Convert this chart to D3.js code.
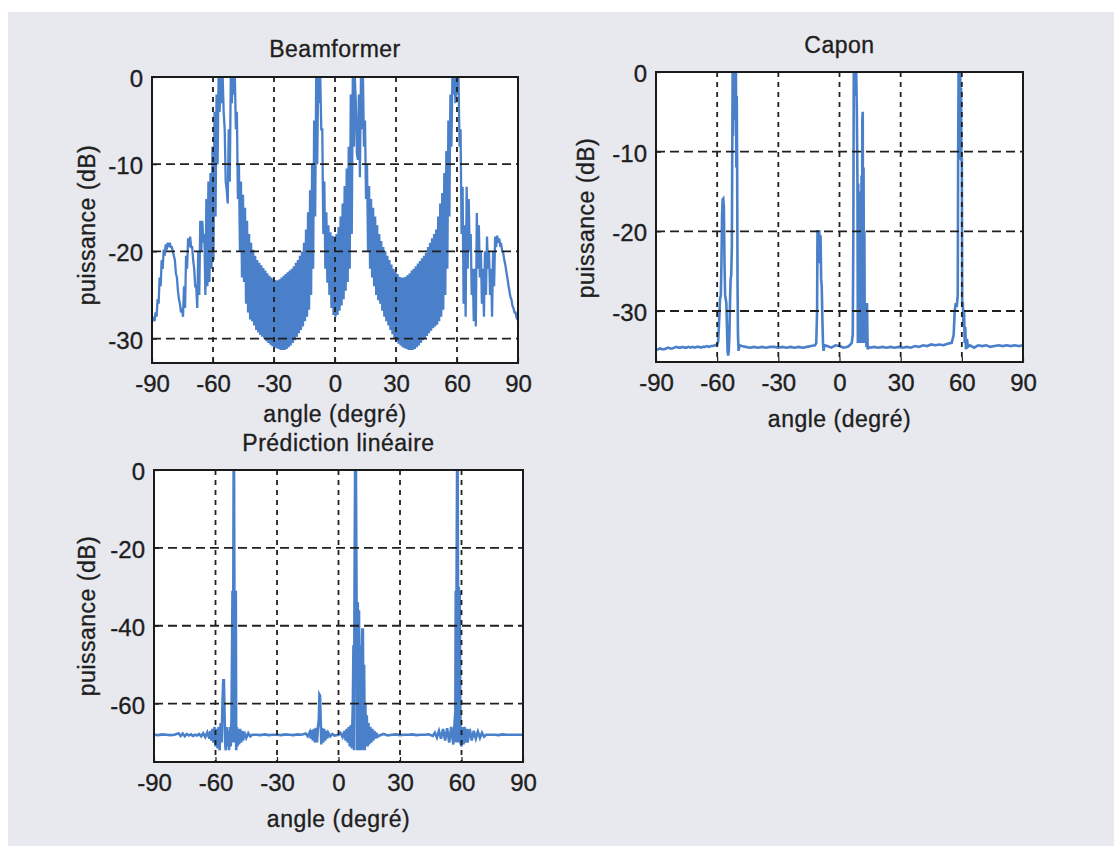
<!DOCTYPE html>
<html><head><meta charset="utf-8">
<script src="https://cdn.jsdelivr.net/npm/d3@7"></script>
<style>
body{margin:0;background:#fff;}
text{font-family:"Liberation Sans",Arial,sans-serif;fill:#1e1e1e;stroke:#1e1e1e;stroke-width:0.35px;}
</style>
</head><body>
<svg id="c" width="1114" height="846"></svg>
<script>
// ---------- data ----------
const xTicks = [-90, -60, -30, 0, 30, 60, 90];
const bfYTicks = [0, -10, -20, -30];
const capYTicks = [0, -10, -20, -30];
const lpYTicks = [0, -20, -40, -60];

// Beamformer: local maxima / minima read at each degree from -90 to 90
const bfStart = -90;
const bfUpper = [
 -27.5,-27.5,-27,-25.5,-23,-21,-19.8,-19.2,-19,-19,
 -19.5,-20.5,-22.5,-24.5,-26,-26.5,-24,-20.5,-18.5,-18.3,
 -19.5,-22,-24,-20,-16.5,-16.5,-18,-14,-12,-11,
 -8,-4,-2,0,0,0,-6,-13,-6,0,
 0,0,-4,-10,-12,-13.5,-15,-16.5,-18,-19,
 -19.8,-20.5,-21,-21.3,-21.6,-21.9,-22.2,-22.5,-22.8,-23,
 -23.2,-23.3,-23.3,-23.2,-23,-22.8,-22.6,-22.4,-22.2,-22,
 -21.7,-21.3,-21,-20.5,-20,-19,-17.5,-15.5,-13,-10,
 -5,0,0,0,-6,-12,-15.5,-17,-17.8,-18.2,
 -18.3,-18,-17.2,-16,-14.5,-12.5,-10.5,-8,-2,0,
 0,-8.7,-2,0,0,-5,-10,-12.5,-14,-15,
 -16,-17,-18,-18.8,-19.5,-20,-20.5,-21,-21.5,-22,
 -22.3,-22.6,-22.9,-23,-23,-22.9,-22.7,-22.5,-22.2,-22,
 -21.7,-21.4,-21.1,-20.8,-20.5,-20.2,-19.5,-19,-18.5,-18,
 -17.5,-16,-14.5,-13.3,-11,-8.5,-5,-2,0,0,
 0,0,-6,-12.6,-17,-12.6,-14,-18,-22,-22,
 -15.6,-17,-20,-22,-20,-18.3,-20,-22,-20,-18.3,
 -18.2,-18.5,-19.2,-20.2,-21.5,-23,-24.5,-25.5,-26.5,-27,
 -27.2];
const bfLower = [
 -28,-28,-27.5,-26,-24,-22,-20.5,-19.8,-19.5,-19.5,
 -20,-21,-23,-25.5,-27,-27.5,-26.5,-22,-19.5,-19.5,
 -21,-24,-26.5,-25,-20,-19,-25,-24,-23.5,-22,
 -21,-16,-10,-4,-3,-4,-12,-14.5,-12,-3,
 -2,-6,-14,-20,-23,-23.5,-26,-27,-27.8,-28,
 -28.5,-29,-29.3,-29.6,-29.8,-30,-30.3,-30.5,-30.7,-30.9,
 -31,-31.1,-31.2,-31.3,-31.3,-31.3,-31.2,-31,-30.8,-30.5,
 -30.2,-29.8,-29.4,-29,-28.6,-28,-27.5,-26.7,-25,-22,
 -16,-10,-3,-6,-18,-22,-23.6,-25,-26.5,-27.3,
 -27.5,-27.3,-26.8,-26.2,-25.5,-24.5,-23.5,-22,-18,-8,
 -3,-9.5,-11.5,-6,-8,-14,-20,-22,-23,-24,
 -25,-25.6,-26,-26.8,-27.5,-28,-28.5,-29,-29.5,-30,
 -30.3,-30.6,-30.8,-31,-31.1,-31.2,-31.3,-31.3,-31.3,-31.2,
 -31,-30.8,-30.5,-30.2,-30,-29.7,-29.4,-29.1,-28.8,-28.6,
 -28.4,-28,-27.5,-26.7,-25,-22,-16,-8,-2,-3,
 -2,-8,-18,-26,-27.5,-22,-20,-25,-28,-28.6,
 -22,-23,-26,-27.5,-25,-22,-25,-27.5,-24,-19.5,
 -19,-19.3,-20,-21,-22.3,-23.8,-25.2,-26.2,-27,-27.5,
 -27.7];

// Capon: [angle, dB]
const caponPts = [
 [-90,-34.9],[-89,-34.8],[-88,-34.7],[-87,-34.8],[-86,-34.8],[-85,-34.7],[-84,-34.6],[-83,-34.7],[-82,-34.7],[-81,-34.6],
 [-80,-34.5],[-79,-34.6],[-78,-34.6],[-77,-34.5],[-76,-34.6],[-75,-34.6],[-74,-34.5],[-73,-34.6],[-72,-34.5],[-71,-34.6],
 [-70,-34.5],[-69,-34.5],[-68,-34.6],[-67,-34.5],[-66,-34.5],[-65,-34.4],[-64,-34.5],[-63,-34.4],[-62,-34.4],[-61,-34.3],[-60,-34.2],
 [-59.5,-33.8],[-59,-31],[-58.6,-28.5],[-58.2,-28],[-57.9,-24],[-57.6,-18],[-57.3,-16],[-57,-15.9],[-56.7,-17],[-56.4,-24],
 [-56.1,-28],[-55.8,-28.5],[-55.5,-29],[-55.2,-32],[-54.9,-35],[-54.6,-35.6],[-54.3,-35],[-54,-33],[-53.7,-29],[-53.4,-26],
 [-53.1,-25.5],[-52.8,-22],[-52.6,-10],[-52.4,0],[-52.2,-8],[-52,0],[-51.8,-6],[-51.6,0],[-51.4,-5],[-51.2,0],[-51,-4],
 [-50.8,0],[-50.6,-12],[-50.4,-3],[-50.2,-12],[-50,-27],[-49.8,-33],[-49.5,-35],[-49.2,-34.5],[-49,-34.3],
 [-48,-34.4],[-46,-34.5],[-44,-34.6],[-42,-34.5],[-40,-34.6],[-38,-34.5],[-36,-34.6],[-34,-34.5],[-32,-34.5],[-30,-34.6],
 [-28,-34.5],[-26,-34.6],[-24,-34.5],[-22,-34.6],[-20,-34.5],[-18,-34.6],[-16,-34.5],[-14,-34.4],[-12,-34.3],
 [-11.4,-34],[-11,-30],[-10.8,-20],[-10.5,-20],[-10.2,-20],[-9.9,-20],[-9.6,-24],[-9.3,-20.5],[-9,-26],[-8.7,-27],
 [-8.4,-31],[-8.1,-34],[-7.8,-35],[-7.4,-34.3],
 [-6,-34.4],[-4,-34.6],[-2,-34.3],[0,-34.4],[2,-34.6],[4,-34.5],[5,-34.3],[6,-34],
 [6.5,-33],[6.8,-20],[7,0],[7.3,0],[7.6,-3],[7.9,0],[8.2,0],[8.5,-5],[8.8,-13.5],[9,-34],[9.2,-14],[9.4,-34],[9.6,-15],
 [9.8,-34],[10,-16],[10.2,-34],[10.4,-16],[10.6,-34],[10.8,-13],[11,-34],[11.2,-6],[11.4,-5],[11.6,-33],[11.8,-12],
 [12,-34],[12.2,-20],[12.4,-34],[12.6,-29],[12.8,-34],[13,-29],[13.2,-34.5],[13.5,-29],[13.8,-34.8],[14.2,-34.5],
 [15,-34.6],[17,-34.5],[19,-34.6],[21,-34.5],[23,-34.6],[25,-34.5],[27,-34.6],[29,-34.5],[31,-34.6],[33,-34.5],
 [35,-34.6],[37,-34.4],[39,-34.5],[41,-34.3],[43,-34.4],[45,-34.2],[47,-34.3],[49,-34.2],[51,-34.3],[53,-34.1],[55,-34],[56,-33],
 [56.5,-30],[57,-29],[57.5,-29.5],[58,-28],[58.2,-10],[58.4,0],[58.6,-6],[58.8,0],[59,-4],[59.2,0],[59.4,-11],[59.6,-2],
 [59.8,-11],[60,-11],[60.2,-29],[60.5,-29],[60.8,-32],[61.1,-30],[61.4,-34],[61.7,-32],[62,-34.8],[62.5,-33.5],[63,-34.5],
 [64,-34.3],[66,-34.6],[68,-34.3],[70,-34.4],[72,-34.3],[74,-34.5],[76,-34.4],[78,-34.3],[80,-34.4],[82,-34.3],
 [84,-34.4],[86,-34.3],[88,-34.4],[90,-34.3]];

// Prediction lineaire: [angle, dB]
const lpPts = [
 [-90,-68],[-88,-68.1],[-86,-67.9],[-84,-68],[-82,-68.1],[-80,-68],[-78,-67.6],[-77,-68.3],[-76,-67.7],[-75,-68.4],
 [-74,-67.8],[-73,-68.2],[-72,-67.9],[-71,-68.3],[-70,-68],[-69,-68.2],[-68,-67.8],[-67,-68.4],[-66,-67.6],[-65,-68.6],
 [-64,-67.4],[-63,-69],[-62.5,-67],[-62,-69.5],[-61.5,-66.5],[-61,-70],[-60.5,-66],[-60,-71],[-59.5,-66.5],[-59,-71.5],
 [-58.5,-66],[-58,-72],[-57.5,-65],[-57,-70],[-56.6,-60],[-56.2,-54],[-55.9,-54],[-55.6,-62],[-55.3,-70],[-55,-72],
 [-54.6,-66],[-54.2,-71],[-53.8,-67],[-53.4,-72],[-53,-66],[-52.6,-71],[-52.2,-64],[-51.9,-45],[-51.7,-31],[-51.5,-70],
 [-51.3,-31],[-51.15,0],[-50.95,0],[-50.8,-31],[-50.6,-70],[-50.45,-31],[-50.3,-66],[-50.1,-31],[-49.9,-72],[-49.6,-66],
 [-49.3,-71],[-49,-66.5],[-48.5,-70.5],[-48,-66.5],[-47.5,-70],[-47,-67],[-46.5,-69.5],[-46,-67.2],[-45,-68.8],[-44,-67.6],
 [-43,-68.4],[-42,-68],[-40,-68],[-38,-68.1],[-36,-67.9],
 [-34,-68.1],[-32,-68],[-30,-68],[-28,-68.1],[-26,-67.9],[-24,-68],[-22,-68.1],[-20,-67.9],[-18,-68],[-16,-67.7],
 [-15,-68.4],[-14,-67.3],[-13.5,-69],[-13,-66.8],[-12.5,-69.5],[-12,-66.5],[-11.5,-70],[-11,-66.2],[-10.5,-70],[-10,-66],
 [-9.6,-64],[-9.3,-57.7],[-9,-58],[-8.7,-64],[-8.4,-70.5],[-8,-66.2],[-7.5,-70],[-7,-66.5],[-6.5,-69.5],[-6,-67],
 [-5.5,-69],[-5,-67.5],[-4,-68.4],[-3,-67.8],[-2,-68.2],[0,-68],[1,-67.5],[2,-68.6],[3,-67],[3.5,-69.5],
 [4,-66.5],[4.5,-70],[5,-66],[5.5,-71],[6,-65.5],[6.5,-71.5],[7,-60],[7.3,-45],[7.6,-72],[7.8,-33],[8.1,0],
 [8.5,0],[8.8,-33],[9.1,-72],[9.4,-34],[9.7,-72],[10,-36],[10.3,-72],[10.6,-45],[10.9,-72],[11.2,-53],
 [11.6,-41],[11.9,-41],[12.2,-72],[12.5,-50],[12.8,-72],[13.1,-60],[13.4,-71],[13.8,-63],[14.2,-71],[14.6,-65],
 [15,-70.5],[15.5,-66],[16,-70],[16.5,-66.5],[17,-69.5],[17.5,-67],[18,-69],[18.5,-67.5],[19,-68.5],[20,-68.2],[22,-67.8],
 [24,-68.2],[26,-68],[28,-67.9],[30,-68.1],[32,-68],[34,-68],[36,-67.9],[38,-68.1],[40,-68],[42,-68],
 [44,-67.9],[46,-68.3],[47,-67.5],[48,-68.7],[49,-67],[50,-69],[51,-66.5],[52,-69.5],[53,-66.3],[54,-70],
 [55,-66],[56,-70.5],[56.5,-66],[57,-62],[57.2,-31],[57.4,-70],[57.6,-29],[57.85,0],[58.1,0],[58.3,-31],[58.5,-70],
 [58.7,-30],[58.9,-66],[59.1,-31],[59.3,-50],[59.5,-70],[60,-71],[60.5,-66],[61,-70.5],[61.5,-66],[62,-70],[62.5,-66.5],[63,-70],[64,-66.5],
 [65,-69.5],[66,-67],[67,-69],[68,-67.2],[69,-68.8],[70,-67.5],[71,-68.5],[72,-68],[74,-68],[76,-68],
 [78,-68.1],[80,-67.9],[82,-68],[84,-68],[86,-68],[88,-68],[90,-68]];

const titles = ["Beamformer", "Capon", "Prédiction linéaire"];
const xLabel = "angle (degré)";
const yLabel = "puissance (dB)";

// beamformer series: each degree gives its maximum then its minimum
const bfPts = [];
bfUpper.forEach((u, i) => {
  const a = bfStart + i;
  bfPts.push([a - 0.25, u]);
  bfPts.push([a + 0.25, bfLower[i]]);
});

// ---------- drawing ----------
const svg = d3.select("#c");
svg.append("rect").attr("x", 8).attr("y", 12).attr("width", 1106).attr("height", 834).attr("fill", "#e8e9ef");

const BLUE = "#4a7fca";
let clipId = 0;

function panel(o) {
  const x = d3.scaleLinear().domain([-90, 90]).range([o.x0, o.x1]);
  const y = d3.scaleLinear().domain([o.ymin, 0]).range([o.y1, o.y0]);
  const g = svg.append("g");
  g.append("rect").attr("x", o.x0).attr("y", o.y0).attr("width", o.x1 - o.x0).attr("height", o.y1 - o.y0).attr("fill", "#fff");

  const id = "clip" + (clipId++);
  g.append("clipPath").attr("id", id).append("rect")
    .attr("x", o.x0).attr("y", o.y0).attr("width", o.x1 - o.x0).attr("height", o.y1 - o.y0);

  const line = d3.line().x(d => x(d[0])).y(d => y(d[1]));
  g.append("path").datum(o.pts).attr("clip-path", `url(#${id})`)
    .attr("d", line).attr("fill", "none").attr("stroke", BLUE)
    .attr("stroke-width", o.sw).attr("stroke-linejoin", "miter");

  // grid (on top, as in the original)
  g.append("g").selectAll("line").data(xTicks.filter(t => t > -90 && t < 90)).join("line")
    .attr("x1", d => x(d)).attr("x2", d => x(d)).attr("y1", o.y0).attr("y2", o.y1)
    .attr("stroke", "#202020").attr("stroke-width", 1.8).attr("stroke-dasharray", "5,5");
  g.append("g").selectAll("line").data(o.yTicks.filter(t => t < 0)).join("line")
    .attr("y1", d => y(d)).attr("y2", d => y(d)).attr("x1", o.x0).attr("x2", o.x1)
    .attr("stroke", "#202020").attr("stroke-width", 1.8).attr("stroke-dasharray", "9,5");

  // axes
  const fmt = d => String(d);
  const ax = g.append("g").attr("transform", `translate(0,${o.y1})`)
    .call(d3.axisBottom(x).tickValues(xTicks).tickSize(-5).tickPadding(12).tickFormat(fmt));
  const ay = g.append("g").attr("transform", `translate(${o.x0},0)`)
    .call(d3.axisLeft(y).tickValues(o.yTicks).tickSize(-5).tickPadding(9).tickFormat(fmt));
  [ax, ay].forEach(a => {
    a.select(".domain").remove();
    a.selectAll(".tick line").attr("stroke", "#202020").attr("stroke-width", 1.2);
    a.selectAll(".tick text").attr("font-size", 24).attr("fill", "#1e1e1e")
      .attr("font-family", "Liberation Sans, Arial, sans-serif");
  });
  ax.selectAll(".tick text").attr("dy", "0.71em");
  ay.selectAll(".tick text").attr("dy", "0.4em");

  // frame
  g.append("rect").attr("x", o.x0).attr("y", o.y0).attr("width", o.x1 - o.x0).attr("height", o.y1 - o.y0)
    .attr("fill", "none").attr("stroke", "#1a1a1a").attr("stroke-width", 2);

  const cx = (o.x0 + o.x1) / 2;
  const ls = 0.5;
  g.append("text").attr("x", cx).attr("y", o.titleY).attr("text-anchor", "middle")
    .attr("font-size", 23).attr("letter-spacing", ls).text(o.title);
  g.append("text").attr("x", cx).attr("y", o.xlabY).attr("text-anchor", "middle")
    .attr("font-size", 23).attr("letter-spacing", ls).text(xLabel);
  g.append("text").attr("transform", `translate(${o.ylabX},${o.ylabY}) rotate(-90)`)
    .attr("text-anchor", "middle").attr("font-size", 23).attr("letter-spacing", ls).text(yLabel);
}

panel({x0: 152, x1: 518, y0: 77, y1: 363, ymin: -32.8, yTicks: bfYTicks, pts: bfPts, sw: 2.3,
       title: titles[0], titleY: 57, xlabY: 422, ylabX: 95, ylabY: 225});
panel({x0: 656, x1: 1023, y0: 72, y1: 362, ymin: -36.4, yTicks: capYTicks, pts: caponPts, sw: 2.6,
       title: titles[1], titleY: 53, xlabY: 427, ylabX: 594, ylabY: 218});
panel({x0: 154, x1: 523, y0: 470, y1: 762, ymin: -75, yTicks: lpYTicks, pts: lpPts, sw: 2.6,
       title: titles[2], titleY: 451, xlabY: 827, ylabX: 95, ylabY: 616});
</script>
</body></html>
